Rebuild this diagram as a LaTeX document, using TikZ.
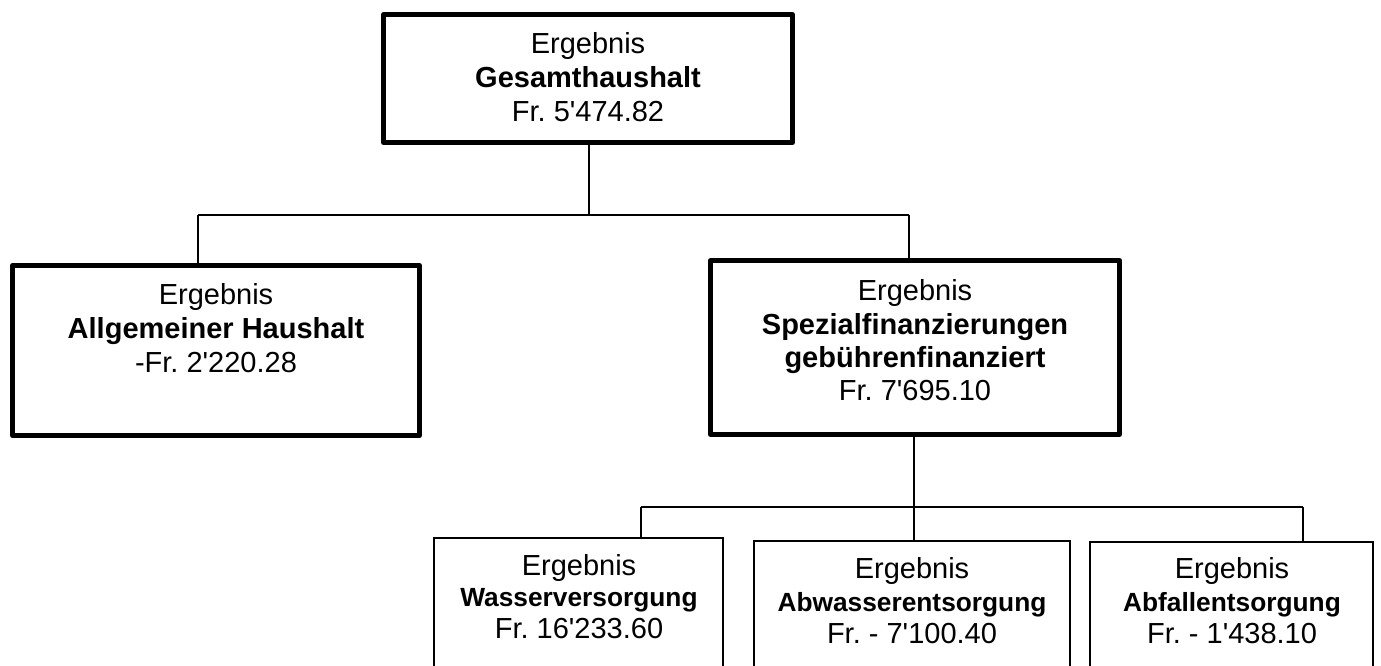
\documentclass[tikz,border=0pt]{standalone}
\usepackage{fontspec}
\setmainfont{Liberation Sans}
\newcommand{\aq}{\textquotesingle}
\begin{document}
\frenchspacing
\begin{tikzpicture}[x=1pt,y=-1pt,
  bigbox/.style={draw, line width=5pt, line join=round, inner sep=0pt, outer sep=0pt, rectangle},
  smallbox/.style={draw, line width=2pt, inner sep=0pt, outer sep=0pt, rectangle},
  conn/.style={line width=1.6pt},
  txt/.style={anchor=base, inner sep=0pt, font=\fontsize{29}{34}\selectfont},
  txtb/.style={anchor=base, inner sep=0pt, font=\fontsize{29}{34}\selectfont\bfseries},
  txts/.style={anchor=base, inner sep=0pt, font=\fontsize{26.3}{30}\selectfont\bfseries}]
\useasboundingbox (0,0) rectangle (1381,665);
\clip (0,0) rectangle (1381,665);
% boxes
\node[bigbox, minimum width=409pt, minimum height=128pt] (top) at (588,78.5) {};
\node[bigbox, minimum width=407pt, minimum height=170pt] (left) at (216,350.5) {};
\node[bigbox, minimum width=409pt, minimum height=174pt] (right) at (915,347.5) {};
\node[smallbox, minimum width=289pt, minimum height=160pt] (b1) at (578.5,618) {};
\node[smallbox, minimum width=316pt, minimum height=160pt] (b2) at (912,621) {};
\node[smallbox, minimum width=283pt, minimum height=160pt] (b3) at (1231.5,622) {};
% texts
\node[txt] (t1a) at (588,53) {Ergebnis};
\node[txtb] (t1b) at (588,87) {Gesamthaushalt};
\node[txt] (t1c) at (588,121) {Fr. 5\aq 474.82};
\node[txt] (t2a) at (216,304) {Ergebnis};
\node[txtb] (t2b) at (216,338) {Allgemeiner Haushalt};
\node[txt] (t2c) at (216,372) {-Fr. 2\aq 220.28};
\node[txt] (t3a) at (915,300) {Ergebnis};
\node[txtb] (t3b) at (915,334) {Spezialfinanzierungen};
\node[txtb] (t3c) at (915,367) {gebührenfinanziert};
\node[txt] (t3d) at (915,400) {Fr. 7\aq 695.10};
\node[txt] (t4a) at (579,575) {Ergebnis};
\node[txts] (t4b) at (579,606) {Wasserversorgung};
\node[txt] (t4c) at (579,638) {Fr. 16\aq 233.60};
\node[txt] (t5a) at (912,578) {Ergebnis};
\node[txts] (t5b) at (912,611) {Abwasserentsorgung};
\node[txt] (t5c) at (912,643) {Fr. - 7\aq 100.40};
\node[txt] (t6a) at (1232,578) {Ergebnis};
\node[txts] (t6b) at (1232,611) {Abfallentsorgung};
\node[txt] (t6c) at (1232,643) {Fr. - 1\aq 438.10};
% connectors
\coordinate (j0) at (589,215);
\coordinate (jl) at (198,215);
\coordinate (jr) at (909,215);
\draw[conn] (top.south -| j0) -- (j0);
\draw[conn] (jl) -- (jr);
\draw[conn] (jl) -- (jl |- left.north);
\draw[conn] (jr) -- (jr |- right.north);
\coordinate (k0) at (914,507);
\coordinate (kl) at (641,507);
\coordinate (kr) at (1303,507);
\draw[conn] (right.south -| k0) -- (k0 |- b2.north);
\draw[conn] (kl) -- (kr);
\draw[conn] (kl) -- (kl |- b1.north);
\draw[conn] (kr) -- (kr |- b3.north);
\end{tikzpicture}
\end{document}
